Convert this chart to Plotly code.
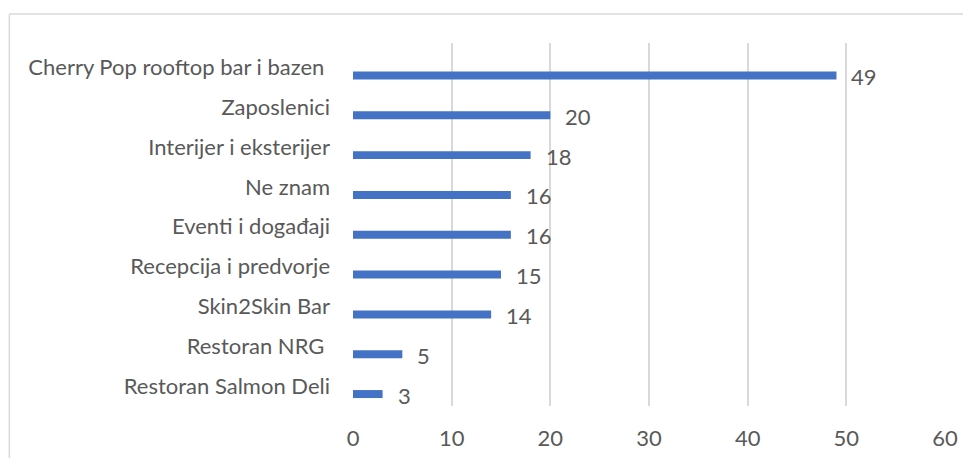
import plotly.graph_objects as go

categories = ["Cherry Pop rooftop bar i bazen\u00a0", "Zaposlenici", "Interijer i eksterijer",
              "Ne znam", "Eventi i događaji", "Recepcija i predvorje", "Skin2Skin Bar",
              "Restoran NRG\u00a0", "Restoran Salmon Deli"]
values = [49, 20, 18, 16, 16, 15, 14, 5, 3]
x_ticks = [0, 10, 20, 30, 40, 50, 60]

FONT = "Lato"
TXT = "#595959"
FS = 22

fig = go.Figure()
fig.add_trace(go.Bar(
    y=categories, x=values, orientation="h",
    marker=dict(color="#4472C4", line=dict(width=0)),
    width=0.2, offset=0.1, hoverinfo="skip",
))

for c, v in zip(categories, values):
    fig.add_annotation(x=v, y=c, text=str(v), showarrow=False, xanchor="left",
                       xshift=13, yshift=-9, font=dict(family=FONT, size=FS, color=TXT))

# chart-area border (top and left)
fig.add_shape(type="line", xref="paper", yref="paper", x0=-0.5805, x1=1.1, y0=1.0799, y1=1.0799,
              line=dict(color="#D9D9D9", width=1.5))
fig.add_shape(type="line", xref="paper", yref="paper", x0=-0.5805, x1=-0.5805, y0=1.0799, y1=-0.2,
              line=dict(color="#D9D9D9", width=1.5))

fig.update_layout(
    width=971, height=458,
    margin=dict(l=345, r=34, t=35, b=60),
    paper_bgcolor="white", plot_bgcolor="white",
    showlegend=False,
    font=dict(family=FONT, size=FS, color=TXT),
    xaxis=dict(range=[0, 60], tickvals=x_ticks, showgrid=True, gridcolor="#D9D9D9", gridwidth=1.5,
               zeroline=False, showline=False, ticks="", tickfont=dict(size=FS, color=TXT),
               ticklabelstandoff=17),
    yaxis=dict(autorange="reversed", type="category", showgrid=False, showline=False, ticks="",
               ticklabelstandoff=22, tickfont=dict(size=FS, color=TXT)),
)

fig.write_html("out.html")
